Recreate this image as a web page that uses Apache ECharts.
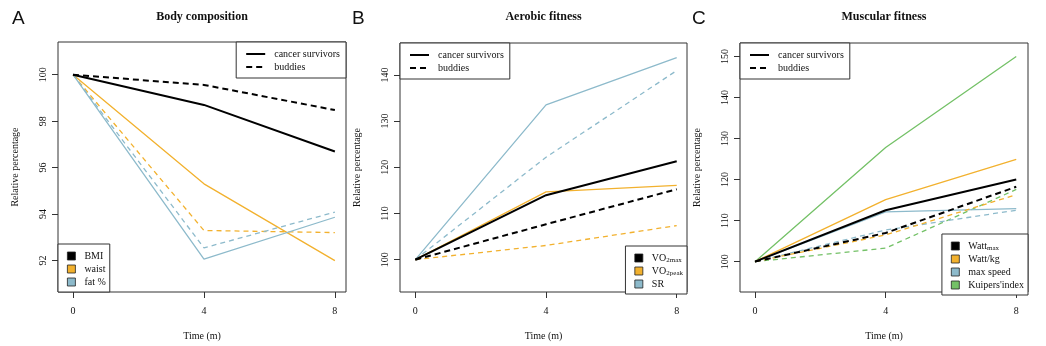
<!DOCTYPE html>
<html>
<head>
<meta charset="utf-8">
<script src="https://cdn.jsdelivr.net/npm/echarts@6/dist/echarts.min.js"></script>
<style>html,body{margin:0;padding:0;background:#fff}#c{width:1046px;height:346px}</style>
</head>
<body>
<div id="c"></div>
<script>
// ---------- data ----------
const timePoints = [0, 4, 8];
const xTicks = [0, 4, 8];

// Panel A: Body composition
const bmiSurvivors   = [100, 98.70, 96.69];
const bmiBuddies     = [100, 99.56, 98.48];
const waistSurvivors = [100, 95.30, 91.99];
const waistBuddies   = [100, 93.29, 93.20];
const fatSurvivors   = [100, 92.06, 93.86];
const fatBuddies     = [100, 92.54, 94.08];
const yTicksA = [92, 94, 96, 98, 100];

// Panel B: Aerobic fitness
const vo2maxSurvivors  = [100, 113.95, 121.32];
const vo2maxBuddies    = [100, 107.66, 115.24];
const vo2peakSurvivors = [100, 114.67, 116.10];
const vo2peakBuddies   = [100, 103.08, 107.37];
const srSurvivors      = [100, 133.49, 143.72];
const srBuddies        = [100, 122.18, 140.93];
const yTicksB = [100, 110, 120, 130, 140];

// Panel C: Muscular fitness
const wattmaxSurvivors = [100, 112.54, 120.02];
const wattmaxBuddies   = [100, 106.99, 118.25];
const wattkgSurvivors  = [100, 115.11, 124.92];
const wattkgBuddies    = [100, 106.51, 116.32];
const speedSurvivors   = [100, 112.14, 112.94];
const speedBuddies     = [100, 107.72, 112.54];
const kuipersSurvivors = [100, 127.81, 150.00];
const kuipersBuddies   = [100, 103.30, 117.60];
const yTicksC = [100, 110, 120, 130, 140, 150];

const groupNames = ['cancer survivors', 'buddies'];
const namesA = ['BMI', 'waist', 'fat %'];
const namesB = ['VO2max', 'VO2peak', 'SR'];
const namesC = ['Wattmax', 'Watt/kg', 'max speed', "Kuipers'index"];
const titles = ['Body composition', 'Aerobic fitness', 'Muscular fitness'];
const panelLetters = ['A', 'B', 'C'];

// ---------- styling ----------
const SERIF = 'Liberation Serif';
const C_BLACK = '#000000', C_ORANGE = '#F2B12E', C_BLUE = '#8DBACB', C_GREEN = '#74C167';

const grids = [
  {left: 58, top: 42, width: 288, height: 250},
  {left: 400, top: 43, width: 287, height: 251},
  {left: 740, top: 43, width: 288, height: 251}
];
const xRanges = [[-0.46, 8.34], [-0.47, 8.315], [-0.46, 8.36]];
const yRanges = [[90.64, 101.41], [93.0, 146.9], [92.6, 153.3]];
const yTicks = [yTicksA, yTicksB, yTicksC];

const pairs = v => v.map((y, i) => [timePoints[i], y]);

function line(name, values, color, dashed, gi) {
  const thick = color === C_BLACK;
  return {
    type: 'line', name: name, data: pairs(values),
    xAxisIndex: gi, yAxisIndex: gi,
    symbol: 'none', silent: true, animation: false,
    lineStyle: {color: color, width: thick ? 2 : 1.3,
      type: dashed ? (thick ? [6, 4] : [5, 4]) : 'solid'},
    itemStyle: {color: color},
    z: thick ? 3 : 2
  };
}

const series = [
  // dummy series for line-type legend
  {type: 'line', name: groupNames[0], data: [], symbol: 'none', xAxisIndex: 0, yAxisIndex: 0,
   lineStyle: {color: '#000', width: 2, type: 'solid'}, itemStyle: {color: '#000'}},
  {type: 'line', name: groupNames[1], data: [], symbol: 'none', xAxisIndex: 0, yAxisIndex: 0,
   lineStyle: {color: '#000', width: 2, type: [6, 4]}, itemStyle: {color: '#000'}},

  line(namesA[0], bmiSurvivors, C_BLACK, false, 0),
  line(namesA[0], bmiBuddies, C_BLACK, true, 0),
  line(namesA[1], waistSurvivors, C_ORANGE, false, 0),
  line(namesA[1], waistBuddies, C_ORANGE, true, 0),
  line(namesA[2], fatSurvivors, C_BLUE, false, 0),
  line(namesA[2], fatBuddies, C_BLUE, true, 0),

  line(namesB[2], srSurvivors, C_BLUE, false, 1),
  line(namesB[2], srBuddies, C_BLUE, true, 1),
  line(namesB[1], vo2peakSurvivors, C_ORANGE, false, 1),
  line(namesB[1], vo2peakBuddies, C_ORANGE, true, 1),
  line(namesB[0], vo2maxSurvivors, C_BLACK, false, 1),
  line(namesB[0], vo2maxBuddies, C_BLACK, true, 1),

  line(namesC[3], kuipersSurvivors, C_GREEN, false, 2),
  line(namesC[3], kuipersBuddies, C_GREEN, true, 2),
  line(namesC[2], speedSurvivors, C_BLUE, false, 2),
  line(namesC[2], speedBuddies, C_BLUE, true, 2),
  line(namesC[1], wattkgSurvivors, C_ORANGE, false, 2),
  line(namesC[1], wattkgBuddies, C_ORANGE, true, 2),
  line(namesC[0], wattmaxSurvivors, C_BLACK, false, 2),
  line(namesC[0], wattmaxBuddies, C_BLACK, true, 2)
];

const richText = {
  m: {fontFamily: SERIF, fontSize: 10, color: '#111', lineHeight: 12},
  s: {fontFamily: SERIF, fontSize: 7, color: '#111', lineHeight: 12, verticalAlign: 'bottom', padding: [3, 0, 0, 0]}
};
function fmt(name) {
  if (name === 'VO2max') return '{m|VO}{s|2max}';
  if (name === 'VO2peak') return '{m|VO}{s|2peak}';
  if (name === 'Wattmax') return '{m|Watt}{s|max}';
  return '{m|' + name + '}';
}

function lineLegend(pos) {
  return Object.assign({
    orient: 'vertical', data: groupNames, itemWidth: 19, itemHeight: 10, itemGap: 3,
    padding: [7, 6, 6, 9], backgroundColor: '#fff', borderColor: '#333', borderWidth: 1,
    borderRadius: 0, selectedMode: false,
    itemStyle: {color: 'rgba(0,0,0,0)', borderWidth: 0, opacity: 0},
    textStyle: {fontFamily: SERIF, fontSize: 10, color: '#111', padding: [0, 0, 0, 4]}
  }, pos);
}
function boxLegend(pos, names) {
  return Object.assign({
    orient: 'vertical', data: names, icon: 'rect', itemWidth: 8, itemHeight: 8, itemGap: 1,
    padding: [6, 4, 4, 9], backgroundColor: '#fff', borderColor: '#333', borderWidth: 1,
    borderRadius: 0, selectedMode: false,
    itemStyle: {borderColor: '#222', borderWidth: 0.8},
    formatter: fmt,
    textStyle: {fontFamily: SERIF, fontSize: 10, color: '#111', lineHeight: 12, padding: [0, 0, 0, 4], rich: richText}
  }, pos);
}

const legend = [
  lineLegend({right: 700, top: 42}),
  lineLegend({left: 400, top: 43}),
  lineLegend({left: 740, top: 43}),
  boxLegend({left: 58, top: 244}, namesA),
  boxLegend({right: 359, top: 246}, namesB),
  boxLegend({right: 18, top: 234}, namesC)
];

const xAxis = grids.map((g, i) => ({
  type: 'value', gridIndex: i, min: xRanges[i][0], max: xRanges[i][1],
  name: 'Time (m)', nameLocation: 'middle', nameGap: 39,
  nameTextStyle: {fontFamily: SERIF, fontSize: 10, color: '#111'},
  axisLine: {show: false, onZero: false}, splitLine: {show: false},
  axisTick: {show: true, length: 6, customValues: xTicks, lineStyle: {color: '#333'}},
  axisLabel: {customValues: xTicks, margin: 14, fontFamily: SERIF, fontSize: 10, color: '#111'}
}));
const yAxis = grids.map((g, i) => ({
  type: 'value', gridIndex: i, min: yRanges[i][0], max: yRanges[i][1],
  name: 'Relative percentage', nameLocation: 'middle', nameGap: 38,
  nameTextStyle: {fontFamily: SERIF, fontSize: 10, color: '#111'},
  axisLine: {show: false, onZero: false}, splitLine: {show: false},
  axisTick: {show: true, length: 6, customValues: yTicks[i], lineStyle: {color: '#333'}},
  axisLabel: {customValues: yTicks[i], rotate: 90, margin: 10, fontFamily: SERIF, fontSize: 10, color: '#111'}
}));

const titleCenters = grids.map(g => g.left + g.width / 2);
const letterLefts = [12, 352, 692];
const title = titles.map((t, i) => ({
  text: t, left: titleCenters[i], top: 11, textAlign: 'center', padding: 0,
  textStyle: {fontFamily: SERIF, fontSize: 12, fontWeight: 'bold', color: '#111'}
})).concat(panelLetters.map((t, i) => ({
  text: t, left: letterLefts[i], top: 9, padding: 0,
  textStyle: {fontFamily: 'Liberation Sans', fontSize: 19, fontWeight: 'normal', color: '#111'}
})));

const chart = echarts.init(document.getElementById('c'), null, {renderer: 'canvas'});
chart.setOption({
  animation: false,
  backgroundColor: '#fff',
  title: title,
  grid: grids.map(g => Object.assign({show: true, borderColor: '#333', borderWidth: 1, backgroundColor: 'transparent', containLabel: false}, g)),
  xAxis: xAxis,
  yAxis: yAxis,
  legend: legend,
  series: series
});
</script>
</body>
</html>
